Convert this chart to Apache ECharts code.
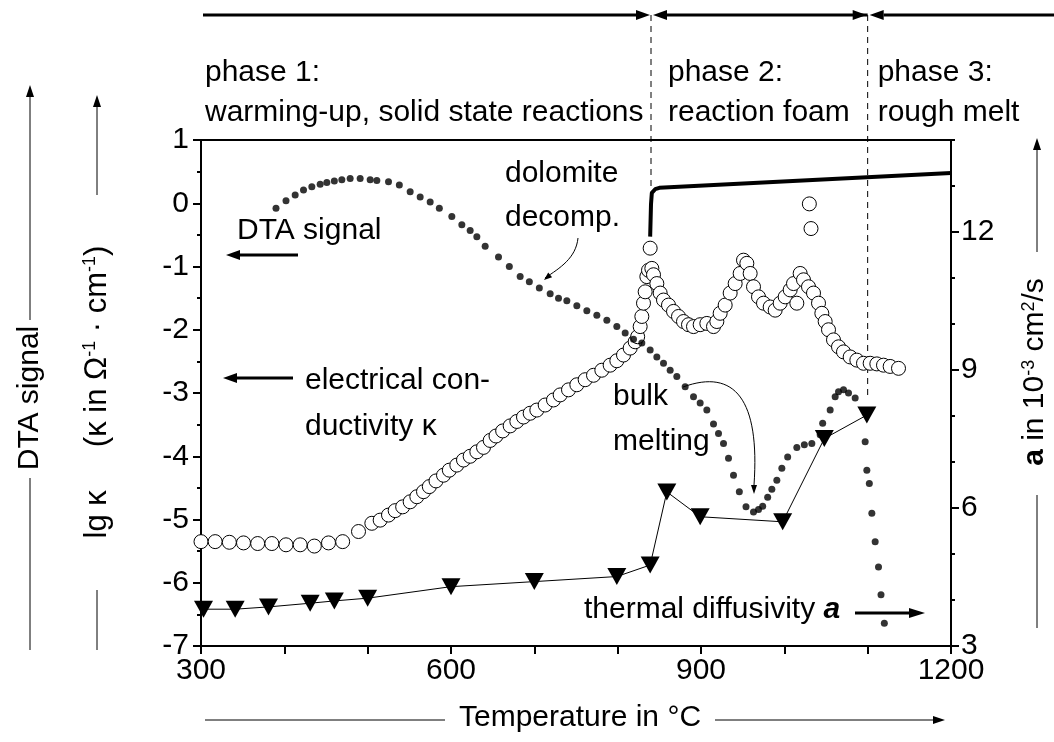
<!DOCTYPE html>
<html>
<head>
<meta charset="utf-8">
<script src="https://cdn.jsdelivr.net/npm/echarts@6/dist/echarts.min.js"></script>
<style>
  html, body { margin: 0; padding: 0; background: #fff; }
  #chart { width: 1054px; height: 742px; }
</style>
</head>
<body>
<div id="chart"></div>
<script>
// DTA signal (dotted curve, left axis scale)
const dtaTemp = [390, 402, 413, 423, 433, 443, 451, 460, 469, 479, 491, 503, 511, 525, 538, 551, 563, 575, 586, 601,
  613, 623, 631, 641, 657, 670, 683, 694, 706, 719, 729, 739, 751, 763, 775, 787, 799, 809, 819, 829,
  839, 847, 855, 863, 871, 881, 891, 899, 907, 915, 921, 927, 933, 939, 946, 954, 963, 969, 974, 980,
  985, 991, 997, 1004, 1015, 1024, 1033, 1043, 1046, 1055, 1061, 1065, 1071, 1077, 1085, 1097, 1099, 1102, 1105, 1109,
  1113, 1116, 1120];
const dtaSignal = [-0.08, 0.04, 0.13, 0.21, 0.26, 0.30, 0.33, 0.35, 0.37, 0.39, 0.39, 0.37, 0.36, 0.34, 0.29, 0.18, 0.10, 0.02, -0.08, -0.21,
  -0.34, -0.43, -0.53, -0.68, -0.85, -1.00, -1.16, -1.24, -1.34, -1.43, -1.50, -1.54, -1.62, -1.70, -1.77, -1.85, -1.95, -2.05, -2.15, -2.21,
  -2.32, -2.43, -2.53, -2.64, -2.74, -2.90, -3.06, -3.16, -3.27, -3.49, -3.64, -3.80, -4.03, -4.30, -4.56, -4.80, -4.88, -4.84, -4.79, -4.65,
  -4.52, -4.38, -4.19, -4.01, -3.86, -3.82, -3.80, -3.66, -3.48, -3.27, -3.06, -2.98, -2.95, -3.00, -3.08, -3.77, -4.22, -4.43, -4.90, -5.35,
  -5.75, -6.19, -6.64];

// electrical conductivity, lg kappa (open circles)
const kappaTemp = [300, 317, 334, 351, 368, 385, 402, 419, 436, 453, 470, 489, 505, 515, 525, 533, 542, 551, 559, 567,
  574, 582, 591, 598, 607, 615, 623, 631, 639, 647, 654, 662, 671, 679, 687, 695, 703, 713, 723, 731,
  741, 751, 761, 771, 781, 791, 799, 807, 815, 821, 824, 827, 829, 831, 833, 835, 837, 839, 841, 843,
  847, 851, 855, 861, 867, 873, 879, 885, 891, 899, 907, 915, 919, 923, 929, 935, 941, 947, 951, 955,
  959, 963, 969, 975, 983, 989, 995, 1001, 1007, 1011, 1015, 1019, 1023, 1029, 1030, 1032, 1035, 1041, 1045, 1049,
  1053, 1059, 1065, 1071, 1079, 1087, 1095, 1103, 1111, 1119, 1127, 1137];
const lgKappa = [-5.35, -5.35, -5.36, -5.37, -5.38, -5.38, -5.40, -5.40, -5.42, -5.37, -5.35, -5.19, -5.06, -5.01, -4.93, -4.86, -4.80, -4.72, -4.64, -4.56,
  -4.48, -4.39, -4.30, -4.22, -4.14, -4.06, -4.00, -3.93, -3.86, -3.75, -3.68, -3.60, -3.52, -3.45, -3.38, -3.32, -3.27, -3.19, -3.11, -3.03,
  -2.95, -2.87, -2.79, -2.72, -2.64, -2.56, -2.49, -2.40, -2.29, -2.19, -2.11, -1.95, -1.79, -1.58, -1.40, -1.16, -1.06, -0.71, -1.03, -1.13,
  -1.27, -1.42, -1.53, -1.61, -1.71, -1.79, -1.87, -1.92, -1.95, -1.92, -1.90, -1.95, -1.87, -1.74, -1.61, -1.42, -1.27, -1.11, -0.90, -0.95,
  -1.11, -1.32, -1.48, -1.58, -1.64, -1.69, -1.58, -1.48, -1.37, -1.27, -1.58, -1.11, -1.21, -1.32, -0.01, -0.40, -1.42, -1.58, -1.74, -1.87,
  -2.00, -2.16, -2.27, -2.35, -2.43, -2.48, -2.53, -2.53, -2.54, -2.56, -2.58, -2.61];

// thermal diffusivity a (triangles, right axis)
const diffTemp = [303, 341, 381, 431, 460, 500, 600, 700, 799, 839, 859, 899, 998, 1048, 1099];
const diffusivity = [3.8, 3.8, 3.85, 3.93, 3.98, 4.04, 4.29, 4.40, 4.51, 4.76, 6.35, 5.81, 5.70, 7.51, 8.02];

// thick solid trace, right axis
const meltTemp = [839, 840, 841, 845, 850, 1200];
const meltTrace = [11.9, 12.6, 12.85, 12.93, 12.96, 13.28];

// axis ticks
const xTicks = [300, 600, 900, 1200];
const leftTicks = [-7, -6, -5, -4, -3, -2, -1, 0, 1];
const rightTicks = [3, 6, 9, 12];
const phaseBounds = [840, 1100];

const font = '"Liberation Sans", Arial, sans-serif';
const chart = echarts.init(document.getElementById('chart'));
const zip = (a, b) => a.map((v, i) => [v, b[i]]);

chart.setOption({
  animation: false,
  backgroundColor: '#fff',
  textStyle: { fontFamily: font },
  grid: { left: 201, right: 103, top: 140, bottom: 96, show: true, borderColor: '#000', borderWidth: 2 },
  xAxis: {
    type: 'value', min: 300, max: 1200, interval: 100,
    axisLine: { onZero: false, lineStyle: { color: '#000', width: 2 } },
    axisTick: { length: 8, lineStyle: { color: '#000', width: 2 } },
    splitLine: { show: false },
    axisLabel: {
      color: '#000', fontSize: 30, fontFamily: font, margin: 10,
      formatter: (v) => (xTicks.includes(v) ? String(v) : '')
    }
  },
  yAxis: [
    {
      type: 'value', min: leftTicks[0], max: leftTicks[leftTicks.length - 1], interval: 1,
      axisLine: { show: true, onZero: false, lineStyle: { color: '#000', width: 2 } },
      axisTick: { show: true, length: 8, lineStyle: { color: '#000', width: 2 } },
      minorTick: { show: true, splitNumber: 2, length: 4, lineStyle: { color: '#000', width: 2 } },
      splitLine: { show: false },
      axisLabel: { color: '#000', fontSize: 30, fontFamily: font, margin: 12 }
    },
    {
      type: 'value', position: 'right', min: 3, max: 14, interval: 3,
      axisLine: { show: true, onZero: false, lineStyle: { color: '#000', width: 2 } },
      axisTick: { show: true, length: 8, lineStyle: { color: '#000', width: 2 } },
      splitLine: { show: false },
      axisLabel: {
        color: '#000', fontSize: 30, fontFamily: font, margin: 10, showMaxLabel: false,
        formatter: (v) => (rightTicks.includes(v) ? String(v) : '')
      }
    },
    {
      type: 'value', position: 'right', min: 3, max: 14, interval: 1,
      axisLine: { show: false, onZero: false },
      axisTick: { show: true, length: 4, lineStyle: { color: '#000', width: 2 } },
      splitLine: { show: false },
      axisLabel: { show: false }
    }
  ],
  series: [
    {
      type: 'line', yAxisIndex: 1, data: zip(meltTemp, meltTrace),
      showSymbol: false, symbol: 'none', lineStyle: { color: '#000', width: 4 }, z: 3
    },
    {
      type: 'scatter', data: zip(kappaTemp, lgKappa), symbol: 'circle', symbolSize: 14,
      itemStyle: { color: '#fff', borderColor: '#000', borderWidth: 1, opacity: 1 }, z: 4
    },
    {
      type: 'scatter', data: zip(dtaTemp, dtaSignal), symbol: 'circle', symbolSize: 7,
      itemStyle: { color: '#000' }, z: 5
    },
    {
      type: 'line', yAxisIndex: 1, data: zip(diffTemp, diffusivity),
      symbol: 'triangle', symbolRotate: 180, symbolSize: [19, 17], showAllSymbol: true,
      itemStyle: { color: '#000' }, lineStyle: { color: '#000', width: 1 }, z: 6
    }
  ]
});

function arrow(x1, y1, x2, y2, w, hl, hw) {
  const a = Math.atan2(y2 - y1, x2 - x1);
  const bx = x2 - hl * Math.cos(a), by = y2 - hl * Math.sin(a);
  const px = -Math.sin(a) * hw, py = Math.cos(a) * hw;
  return [
    { type: 'line', shape: { x1, y1, x2: bx, y2: by }, style: { stroke: '#000', lineWidth: w } },
    { type: 'polygon', shape: { points: [[x2, y2], [bx + px, by + py], [bx - px, by - py]] }, style: { fill: '#000' } }
  ];
}
function head(x2, y2, fromX, fromY, hl, hw) {
  const a = Math.atan2(y2 - fromY, x2 - fromX);
  const bx = x2 - hl * Math.cos(a), by = y2 - hl * Math.sin(a);
  const px = -Math.sin(a) * hw, py = Math.cos(a) * hw;
  return { type: 'polygon', shape: { points: [[x2, y2], [bx + px, by + py], [bx - px, by - py]] }, style: { fill: '#000' } };
}
function txt(x, y, text, extra) {
  return Object.assign({
    type: 'text', x, y,
    style: Object.assign({ text, fill: '#000', fontSize: 30, fontFamily: font, align: 'left', verticalAlign: 'middle' }, (extra && extra.style) || {})
  }, extra && extra.rotation ? { rotation: extra.rotation } : {});
}

const b1 = chart.convertToPixel({ xAxisIndex: 0 }, phaseBounds[0]);
const b2 = chart.convertToPixel({ xAxisIndex: 0 }, phaseBounds[1]);
const sup = { fontSize: 18, verticalAlign: 'top', fontFamily: font };
const rotL = Math.PI / 2;

const g = [];
// top phase arrows
const ty = 15;
g.push(...arrow(203, ty, b1 - 1, ty, 3, 14, 5));
g.push(...arrow(b2, ty, b1 + 2, ty, 3, 14, 5));
g.push(head(b2 - 1, ty, b1, ty, 14, 5));
g.push(...arrow(1054, ty, b2 + 2, ty, 3, 14, 5));
// dashed phase bounds
g.push({ type: 'line', shape: { x1: b1, y1: ty, x2: b1, y2: 190 }, style: { stroke: '#000', lineWidth: 1, lineDash: [6, 5] } });
g.push({ type: 'line', shape: { x1: b2, y1: ty, x2: b2, y2: 395 }, style: { stroke: '#000', lineWidth: 1, lineDash: [6, 5] } });
// phase labels
g.push(txt(205, 73, 'phase 1:'));
g.push(txt(205, 113, 'warming-up, solid state reactions'));
g.push(txt(b1 + 17, 73, 'phase 2:'));
g.push(txt(b1 + 17, 113, 'reaction foam'));
g.push(txt(b2 + 10, 73, 'phase 3:'));
g.push(txt(b2 + 10, 113, 'rough melt'));
// in-plot annotations
g.push(txt(237, 231, 'DTA signal'));
g.push(...arrow(298, 255, 226, 255, 3, 14, 5));
g.push(txt(305, 381, 'electrical con-'));
g.push(txt(305, 427, 'ductivity κ'));
g.push(...arrow(293, 378, 223, 378, 3, 14, 5));
g.push(txt(505, 174, 'dolomite'));
g.push(txt(505, 218, 'decomp.'));
g.push({ type: 'bezierCurve', shape: { x1: 578, y1: 238, x2: 545, y2: 278, cpx1: 576, cpy1: 258, cpx2: 560, cpy2: 268 }, style: { stroke: '#000', lineWidth: 1, fill: null } });
g.push(head(544, 280, 556, 270, 8, 3));
g.push(txt(613, 397, 'bulk'));
g.push(txt(613, 442, 'melting'));
g.push({ type: 'bezierCurve', shape: { x1: 683, y1: 387, x2: 754, y2: 485, cpx1: 735, cpy1: 368, cpx2: 760, cpy2: 400 }, style: { stroke: '#000', lineWidth: 1, fill: null } });
g.push(head(754, 494, 754, 470, 9, 3));
g.push(txt(584, 610, 'thermal diffusivity {b|a}', { style: { rich: { b: { fontSize: 30, fontWeight: 'bold', fontStyle: 'italic', fontFamily: font } } } }));
g.push(...arrow(855, 613, 925, 613, 3, 16, 5));
// x axis title
g.push(txt(580, 718, 'Temperature in °C', { style: { align: 'center' } }));
g.push({ type: 'line', shape: { x1: 205, y1: 720, x2: 445, y2: 720 }, style: { stroke: '#000', lineWidth: 1 } });
g.push(...arrow(715, 720, 945, 720, 1, 12, 4));
// left axis titles
g.push(txt(30, 398, 'DTA signal', { rotation: rotL, style: { align: 'center' } }));
g.push(...arrow(30, 320, 30, 85, 1, 12, 4));
g.push({ type: 'line', shape: { x1: 30, y1: 478, x2: 30, y2: 650 }, style: { stroke: '#000', lineWidth: 1 } });
g.push(txt(97, 392, 'lg κ     (κ in Ω{s|-1} · cm{s|-1})', { rotation: rotL, style: { align: 'center', fontSize: 31, rich: { s: sup } } }));
g.push(...arrow(97, 195, 97, 95, 1, 12, 4));
g.push({ type: 'line', shape: { x1: 97, y1: 590, x2: 97, y2: 650 }, style: { stroke: '#000', lineWidth: 1 } });
// right axis title
g.push(txt(1035, 372, '{b|a} in 10{s|-3} cm{s|2}/s', { rotation: rotL, style: { align: 'center', rich: { s: sup, b: { fontSize: 30, fontWeight: 'bold', fontFamily: font } } } }));
g.push(...arrow(1037, 252, 1037, 138, 1, 12, 4));
g.push({ type: 'line', shape: { x1: 1037, y1: 495, x2: 1037, y2: 628 }, style: { stroke: '#000', lineWidth: 1 } });

chart.setOption({ graphic: { elements: g } });
</script>
</body>
</html>
